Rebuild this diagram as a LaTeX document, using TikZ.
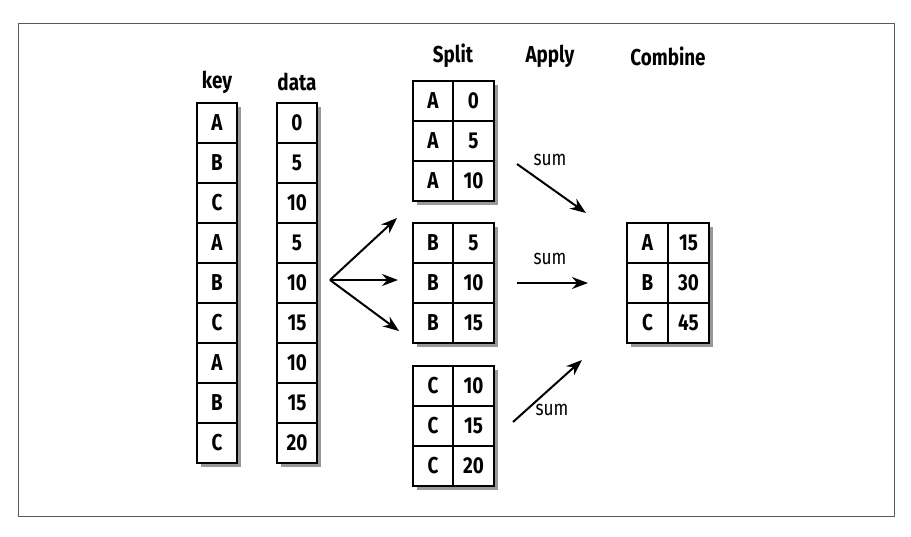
\documentclass[tikz,border=0pt]{standalone}
\usepackage{fontspec}
\setmainfont{Fira Sans}[FakeStretch=0.82]
\usepackage{tikz}
\usetikzlibrary{arrows.meta, shadows}

\newcommand{\cellfont}{\bfseries\fontsize{23}{23}\selectfont}
\newcommand{\headfont}{\bfseries\fontsize{23}{23}\selectfont}

\begin{document}
\begin{tikzpicture}[x=1pt, y=-1pt, >={Stealth[length=16pt,width=12pt]},
                    line width=2pt]
  \tikzset{cell/.style={draw, line width=2pt, fill=white, inner sep=0pt,
                        minimum width=40pt, minimum height=40pt, font=\cellfont,
                        drop shadow={shadow xshift=4pt, shadow yshift=-4pt, opacity=0.8}},
           head/.style={font=\headfont, inner sep=0pt},
           sumlbl/.style={font=\fontsize{21}{21}\selectfont, inner sep=0pt}}

  \useasboundingbox (0,0) rectangle (911,536);
  \draw[line width=1pt, black!65] (18,23) rectangle (894,516);

  % headers
  \node[head] (keylbl)     at (217,82) {key};
  \node[head] (datalbl)    at (297,82) {data};
  \node[head] (splitlbl)   at (453,56) {Split};
  \node[head] (applylbl)   at (550,56) {Apply};
  \node[head] (combinelbl) at (668,56) {Combine};

  % key and data columns
  \foreach \k [count=\i] in {A,B,C,A,B,C,A,B,C}
    \node[cell] (key\i) at (217,{83+40*\i}) {\k};
  \foreach \v [count=\i] in {0,5,10,5,10,15,10,15,20}
    \node[cell] (data\i) at (297,{83+40*\i}) {\v};

  % split groups
  \foreach \v [count=\i] in {0,5,10} {
    \node[cell] (akey\i) at (433,{61+40*\i}) {A};
    \node[cell, minimum width=41pt] (aval\i) at (473.5,{61+40*\i}) {\v};
  }
  \foreach \v [count=\i] in {5,10,15} {
    \node[cell] (bkey\i) at (433,{203+40*\i}) {B};
    \node[cell, minimum width=41pt] (bval\i) at (473.5,{203+40*\i}) {\v};
  }
  \foreach \v [count=\i] in {10,15,20} {
    \node[cell] (ckey\i) at (433,{346+40*\i}) {C};
    \node[cell, minimum width=41pt] (cval\i) at (473.5,{346+40*\i}) {\v};
  }

  % combined result
  \foreach \k/\v [count=\i] in {A/15,B/30,C/45} {
    \node[cell, minimum width=41pt] (rkey\i) at (647.5,{203+40*\i}) {\k};
    \node[cell, minimum width=41pt] (rval\i) at (688.5,{203+40*\i}) {\v};
  }

  % fan out
  \coordinate (fan)  at (330,280);
  \coordinate (fanA) at (397,218);
  \coordinate (fanB) at (398,280);
  \coordinate (fanC) at (399,331);
  \draw[->] (fan) -- (fanA);
  \draw[->] (fan) -- (fanB);
  \draw[->] (fan) -- (fanC);

  % apply
  \coordinate (sumAin)  at (517,164);
  \coordinate (sumAout) at (586,213);
  \coordinate (sumBin)  at (517,283);
  \coordinate (sumBout) at (588,283);
  \coordinate (sumCin)  at (513,422);
  \coordinate (sumCout) at (582,360);
  \draw[->] (sumAin) -- (sumAout);
  \draw[->] (sumBin) -- (sumBout);
  \draw[->] (sumCin) -- (sumCout);
  \node[sumlbl] (sumA) at (550,160) {sum};
  \node[sumlbl] (sumB) at (550,259) {sum};
  \node[sumlbl] (sumC) at (552,410) {sum};
\end{tikzpicture}
\end{document}
